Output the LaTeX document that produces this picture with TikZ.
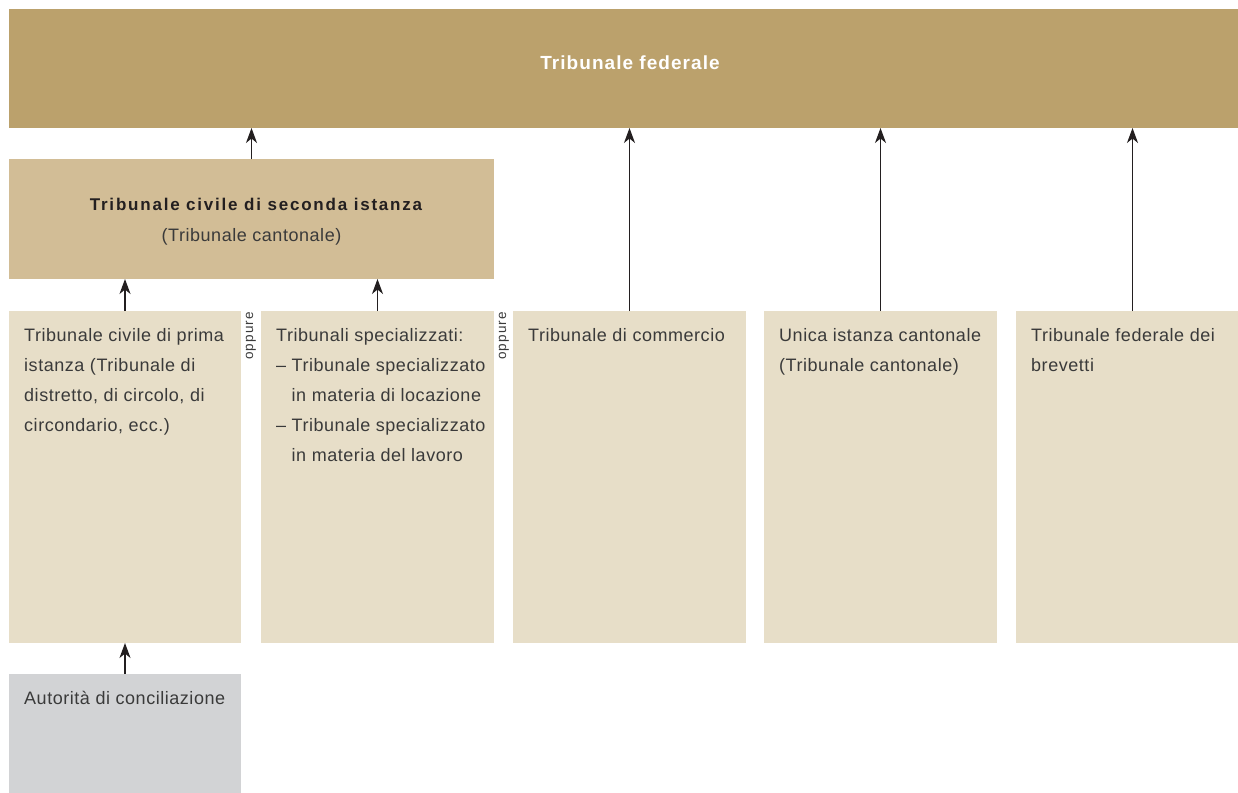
\documentclass[tikz,border=0pt]{standalone}
\usepackage{fontspec}
\setmainfont{Liberation Sans}[LetterSpace=3]
\newfontfamily\secfont{Liberation Sans}[LetterSpace=10.5]
\newfontfamily\topfont{Liberation Sans}[LetterSpace=5.5]
\newfontfamily\oppfont{Liberation Sans}[LetterSpace=8]
\usetikzlibrary{arrows.meta}
\definecolor{fedcol}{HTML}{BBA16C}
\definecolor{seccol}{HTML}{D2BD96}
\definecolor{boxcol}{HTML}{E7DEC8}
\definecolor{graycol}{HTML}{D2D3D5}
\definecolor{txtcol}{HTML}{3A3A3A}
\definecolor{darkcol}{HTML}{231F20}
\begin{document}
\begin{tikzpicture}[x=1pt,y=-1pt,
  panel/.style={draw=none, inner sep=0pt, outer sep=0pt, anchor=north west},
  col/.style={panel, fill=boxcol, minimum width=233pt, minimum height=332pt},
  txt/.style={anchor=north west, inner sep=0pt, text width=228pt, align=flush left,
    text=txtcol, font=\fontsize{18}{30}\selectfont},
  opp/.style={rotate=90, anchor=east, inner sep=0pt, text=txtcol,
    font=\oppfont\fontsize{13.5}{15}\selectfont},
  arr/.style={draw=darkcol, line width=1.2pt, -{Stealth[length=15pt,width=11pt,inset=4.5pt]}}
]
\useasboundingbox (0,0) rectangle (1238,792);
\clip (0,0) rectangle (1238,792);
\fill[white] (0,0) rectangle (1238,792);

% boxes
\node[panel, fill=fedcol, minimum width=1241pt, minimum height=119pt] (top) at (9,9) {};
\node[panel, fill=seccol, minimum width=485pt, minimum height=120pt] (sec) at (9,159) {};
\node[col, minimum width=232pt] (c1) at (9,311) {};
\node[col] (c2) at (261,311) {};
\node[col] (c3) at (513,311) {};
\node[col] (c4) at (764,311) {};
\node[col] (c5) at (1016,311) {};
\node[panel, fill=graycol, minimum width=232pt, minimum height=130pt] (conc) at (9,674) {};

% titles
\node[anchor=base, inner sep=0pt, text=white, font=\topfont\bfseries\fontsize{19}{22}\selectfont]
  (toptxt) at ([shift={(0.5,60)}]top.north) {Tribunale federale};
\node[anchor=base, inner sep=0pt, text=darkcol, font=\secfont\bfseries\fontsize{17}{22}\selectfont]
  (sectxt) at ([shift={(4.5,51.5)}]sec.north) {Tribunale civile di seconda istanza};
\node[anchor=base, inner sep=0pt, text=txtcol, font=\fontsize{18}{22}\selectfont]
  (sectxtb) at ([shift={(0,82.5)}]sec.north) {(Tribunale cantonale)};

% column texts
\node[txt] (t1) at ([shift={(15,9)}]c1.north west)
  {\strut Tribunale civile di prima\\istanza (Tribunale di\\distretto, di circolo, di\\circondario, ecc.)};
\node[txt] (t2) at ([shift={(15,9)}]c2.north west)
  {\strut Tribunali specializzati:\\
   \makebox[15.5pt][l]{–}Tribunale specializzato\\
   \hspace*{15.5pt}in materia di locazione\\
   \makebox[15.5pt][l]{–}Tribunale specializzato\\
   \hspace*{15.5pt}in materia del lavoro};
\node[txt] (t3) at ([shift={(15,9)}]c3.north west) {\strut Tribunale di commercio};
\node[txt] (t4) at ([shift={(15,9)}]c4.north west) {\strut Unica istanza cantonale\\(Tribunale cantonale)};
\node[txt] (t5) at ([shift={(15,9)}]c5.north west) {\strut Tribunale federale dei\\brevetti};
\node[txt] (t6) at ([shift={(15,9)}]conc.north west) {\strut Autorità di conciliazione};

% oppure
\node[opp] (o1) at (251,312) {oppure};
\node[opp] (o2) at (504,312) {oppure};

% arrows
\draw[arr] (sec.north) -- (top.south -| sec.north);
\draw[arr] (c1.north) -- (sec.south -| c1.north);
\draw[arr] (c2.north) -- (sec.south -| c2.north);
\draw[arr] (c3.north) -- (top.south -| c3.north);
\draw[arr] (c4.north) -- (top.south -| c4.north);
\draw[arr] (c5.north) -- (top.south -| c5.north);
\draw[arr] (conc.north) -- (c1.south);
\end{tikzpicture}
\end{document}
